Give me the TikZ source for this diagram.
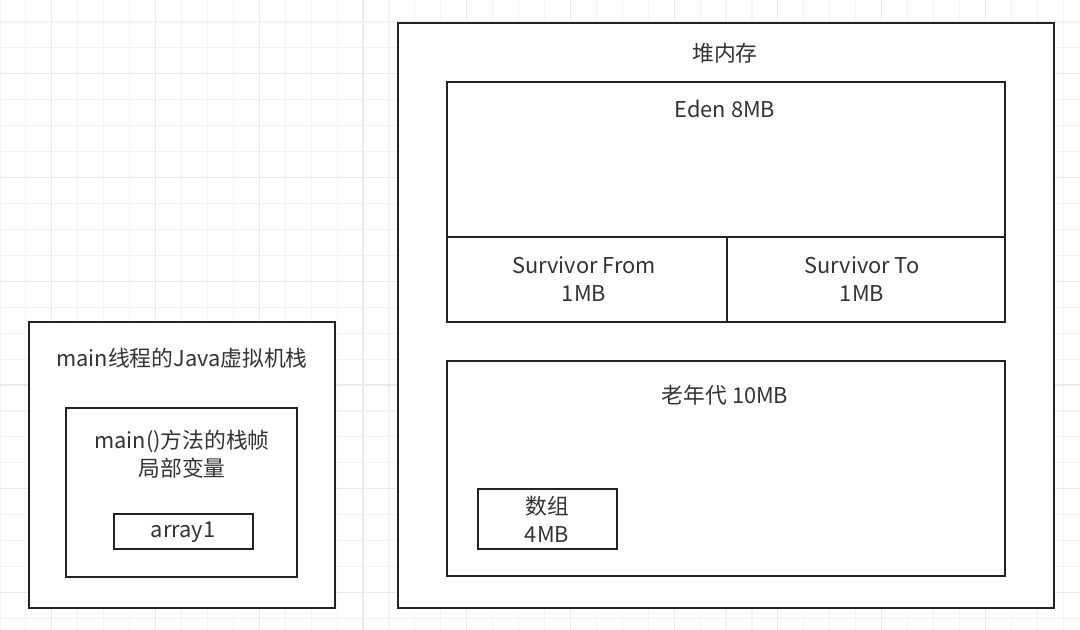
\documentclass[tikz,border=0pt]{standalone}
\usepackage{xcolor}
\usepackage{fontspec}
\setmainfont{Noto Sans CJK SC}
\usepackage{tikz}
\definecolor{linecol}{RGB}{34,34,34}
\definecolor{textcol}{RGB}{51,51,51}
\definecolor{gridminor}{RGB}{243,243,245}
\definecolor{gridmajor}{RGB}{234,234,237}
\tikzset{
  box/.style={draw=linecol, line width=1.8pt},
  lbl/.style={text=textcol, align=center, inner sep=0pt,
    font=\fontsize{15.5}{20}\selectfont}
}

\begin{document}
\begin{tikzpicture}[x=0.025cm, y=-0.025cm]
  \def\g{25.93}
  \fill[white] (0,0) rectangle (1080,630);
  \useasboundingbox (0,0) rectangle (1080,630);

  % mreza
  \foreach \i in {0,...,41} {
    \pgfmathtruncatemacro{\m}{mod(\i,4)==2}
    \ifnum\m=1 \def\gc{gridmajor}\else\def\gc{gridminor}\fi
    \draw[\gc, line width=0.8pt] ({\i*\g},0) -- ({\i*\g},630);
  }
  \foreach \j in {0,...,25} {
    \pgfmathtruncatemacro{\m}{mod(\j,4)==3}
    \ifnum\m=1 \def\gc{gridmajor}\else\def\gc{gridminor}\fi
    \draw[\gc, line width=0.8pt] (0,{22+(\j-1)*\g}) -- (1080,{22+(\j-1)*\g});
  }

  % sklad niti main
  \draw[box, fill=white] (29,322) rectangle (335,608);
  \draw[box, fill=white] (66,408) rectangle (297,577);
  \draw[box, fill=white] (114,514) rectangle (253,549);
  \node[lbl] (stack) at (182,358) {main线程的Java虚拟机栈};
  \node[lbl] (frame) at (182,454) {main()方法的栈帧\\局部变量};
  \node[lbl] (arr1)  at (183,532) {array1};

  % kopica
  \draw[box, fill=white] (398,23) rectangle (1054,608);
  \draw[box] (447,82) rectangle (1005,237);
  \draw[box] (447,237) rectangle (727,322);
  \draw[box] (727,237) rectangle (1005,322);
  \draw[box] (447,361) rectangle (1005,576);
  \draw[box] (478,489) rectangle (617,549);
  \node[lbl] (heap)  at (725,53)  {堆内存};
  \node[lbl] (eden)  at (725,109) {Eden 8MB};
  \node[lbl] (sfrom) at (584,279) {Survivor From\\1MB};
  \node[lbl] (sto)   at (862,279) {Survivor To\\1MB};
  \node[lbl] (old)   at (725,395) {老年代 10MB};
  \node[lbl] (arr)   at (547,519) {数组\\4MB};

\end{tikzpicture}
\end{document}
